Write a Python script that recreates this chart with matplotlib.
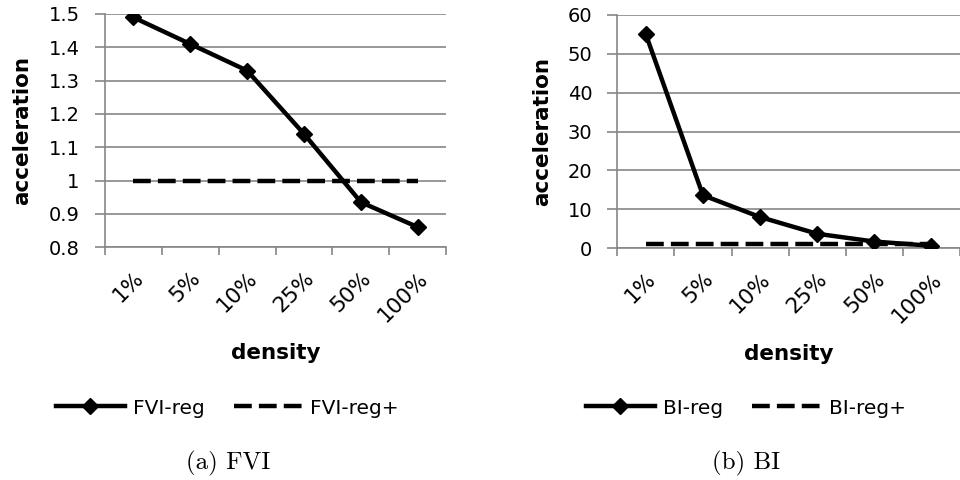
import matplotlib
matplotlib.use("Agg")
import matplotlib.pyplot as plt
import numpy as np

##############################################################################
# data

density = ['1%', '5%', '10%', '25%', '50%', '100%']

fvi_reg = [1.49, 1.41, 1.33, 1.14, 0.935, 0.86]
fvi_reg_plus = [1.0, 1.0, 1.0, 1.0, 1.0, 1.0]

bi_reg = [55.0, 13.6, 8.0, 3.7, 1.7, 0.6]
bi_reg_plus = [1.0, 1.0, 1.0, 1.0, 1.0, 1.0]

##############################################################################
# style

fontsize = 15
gridcolor = '#868686'
plt.rcParams['font.family'] = ['DejaVu Sans']

fig = plt.figure(figsize=(9.6, 4.8), dpi=100)


def draw(ax, reg, regp, names, ylim, yticks, yfmt, ylab_x):
    x = np.arange(len(density))
    ax.plot(x, reg, color='black', lw=3.2, marker='D', markersize=8,
            label=names[0], zorder=3)
    ax.plot(x, regp, color='black', lw=3.2, dashes=(4.0, 1.6),
            label=names[1], zorder=2)

    ax.set_xlim(-0.5, len(density) - 0.5)
    ax.set_ylim(*ylim)
    ax.set_yticks(yticks)
    ax.set_yticklabels([yfmt(v) for v in yticks], fontsize=14)
    ax.set_xticks(x)
    ax.set_xticklabels(density, fontsize=15.5, rotation=45,
                       ha='right', va='top', rotation_mode='anchor')
    ax.set_xticks(np.arange(len(density) + 1) - 0.5, minor=True)
    ax.tick_params(axis='x', which='major', length=0, pad=15)
    ax.tick_params(axis='x', which='minor', length=6, color=gridcolor,
                   width=1.2)
    ax.tick_params(axis='y', length=7, color=gridcolor, width=1.2, pad=11)

    ax.grid(axis='y', color=gridcolor, lw=1.2)
    ax.set_axisbelow(True)
    for s in ['top', 'right']:
        ax.spines[s].set_visible(False)
    for s in ['left', 'bottom']:
        ax.spines[s].set_color(gridcolor)
        ax.spines[s].set_linewidth(1.2)

    ax.set_ylabel('acceleration', fontsize=15.5, fontweight='bold')
    ax.set_xlabel('density', fontsize=15.5, fontweight='bold')
    ax.yaxis.set_label_coords(ylab_x, 0.5)
    ax.xaxis.set_label_coords(0.5, -0.41)


ax1 = fig.add_axes([0.109, 0.485, 0.356, 0.486])
draw(ax1, fvi_reg, fvi_reg_plus, ['FVI-reg', 'FVI-reg+'], (0.8, 1.5),
     [0.8, 0.9, 1.0, 1.1, 1.2, 1.3, 1.4, 1.5],
     lambda v: ('%g' % v), -0.213)

ax2 = fig.add_axes([0.643, 0.483, 0.357, 0.486])
draw(ax2, bi_reg, bi_reg_plus, ['BI-reg', 'BI-reg+'], (0, 60),
     [0, 10, 20, 30, 40, 50, 60],
     lambda v: ('%d' % v), -0.19)

for ax, cx in [(ax1, 0.237), (ax2, 0.777)]:
    ax.legend(loc='center', bbox_to_anchor=(cx, 0.15),
              bbox_transform=fig.transFigure, ncol=2, frameon=False,
              fontsize=14.5, handlelength=3.4, handletextpad=0.4,
              columnspacing=1.45)

fig.text(0.238, 0.035, '(a) FVI', family='cmr10', fontsize=18,
         ha='center', va='center')
fig.text(0.777, 0.035, '(b) BI', family='cmr10', fontsize=18,
         ha='center', va='center')

plt.savefig('out.png', dpi=100)
